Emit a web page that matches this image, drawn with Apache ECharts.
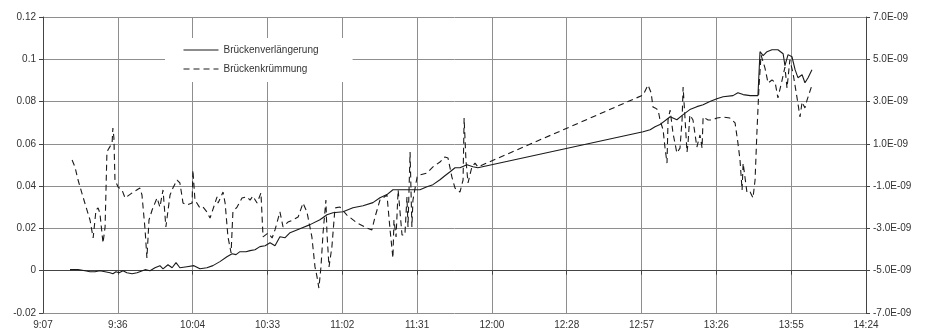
<!DOCTYPE html>
<html>
<head>
<meta charset="utf-8">
<script src="https://cdn.jsdelivr.net/npm/echarts@6/dist/echarts.min.js"></script>
<style>
  html, body { margin: 0; padding: 0; background: #fff; }
  #chart { width: 925px; height: 335px; }
</style>
</head>
<body>
<div id="chart"></div>
<script>
// Times are minutes since midnight (e.g. 557.6 = 9:17.6)
const verlTime = [557.6,560.7,563.4,565.3,567.2,569.1,571.1,573.0,574.1,575.3,576.5,578.0,579.5,581.5,583.4,586.5,588.4,590.3,592.2,593.4,595.3,596.9,598.4,599.9,602.6,605.3,607.6,610.3,612.6,615.3,618.0,620.0,621.5,623.0,625.3,626.9,628.8,630.7,632.7,634.6,636.5,638.4,640.4,642.3,646.1,650.0,653.8,656.5,658.8,662.7,666.5,670.4,674.2,676.9,679.6,681.9,685.8,689.6,692.3,695.0,697.3,700.0,701.9,703.9,705.8,707.7,710.4,712.7,714.6,778.2,780.9,782.8,784.7,788.6,791.2,793.6,796.2,798.9,801.3,803.9,806.6,809.0,812.8,814.7,816.7,819.4,822.4,823.2,824.4,825.9,827.8,830.1,832.1,832.8,834.0,835.5,836.7,837.8,839.4,840.5,841.7,843.2];
const verlValue = [0.0005,0.0005,0.0,-0.0005,-0.0005,0.0,-0.0005,-0.001,-0.0014,-0.0005,-0.001,0.0,-0.001,-0.0014,-0.001,0.0005,0.0,0.0014,0.0024,0.0009,0.0028,0.0014,0.0038,0.0014,0.0019,0.0024,0.0009,0.0014,0.0024,0.0043,0.0066,0.008,0.0076,0.009,0.009,0.0095,0.0099,0.0114,0.0118,0.0132,0.0118,0.0161,0.0156,0.018,0.0199,0.0218,0.0241,0.0265,0.0274,0.0279,0.0298,0.0307,0.0322,0.0345,0.036,0.0383,0.0383,0.0383,0.0383,0.0397,0.0407,0.043,0.0449,0.0468,0.0487,0.0487,0.0501,0.0492,0.0487,0.0657,0.0667,0.0681,0.0691,0.0728,0.0714,0.0738,0.0762,0.0776,0.0785,0.08,0.0813,0.0823,0.0828,0.0842,0.0833,0.0828,0.0828,0.1036,0.1017,0.1036,0.1045,0.1045,0.1026,0.097,0.1022,0.1012,0.0951,0.0913,0.0927,0.0889,0.0913,0.0951];

// Brückenkrümmung values in units of 1E-09
const kruemTime = [558.4,559.5,560.7,562.6,565.3,566.5,567.6,568.4,569.1,570.3,571.1,571.8,572.2,573.8,574.1,574.5,574.9,576.1,577.6,578.8,581.5,584.5,585.3,586.5,587.2,588.0,589.2,591.1,592.2,593.4,594.5,596.1,597.2,598.8,599.9,601.1,602.6,604.6,604.9,605.7,607.6,608.8,610.3,611.5,614.2,614.6,616.5,617.3,618.4,619.6,620.3,621.9,623.8,625.7,626.9,628.0,629.6,631.1,631.9,633.8,635.4,636.5,638.4,639.6,641.5,643.4,645.4,647.3,648.8,650.7,651.9,652.7,653.4,654.2,655.0,656.1,656.5,657.3,658.4,659.6,661.5,664.2,668.1,671.9,673.8,675.0,676.9,679.6,680.8,681.9,682.3,683.1,683.9,685.4,686.5,687.3,687.7,688.5,689.2,689.6,691.2,692.3,695.0,697.3,700.0,701.9,703.1,704.6,705.8,707.7,708.9,709.3,710.0,710.8,712.3,713.5,714.6,778.2,780.1,781.3,782.0,782.8,784.0,784.7,785.9,786.6,787.4,787.8,788.6,789.7,791.2,792.4,793.2,793.6,794.3,795.1,795.5,796.2,797.4,798.9,800.1,800.9,801.3,803.2,804.7,806.6,809.0,811.6,813.6,814.7,815.5,816.3,816.7,817.4,818.2,819.4,820.5,821.3,822.0,822.8,823.6,825.1,826.3,827.8,829.0,830.1,831.7,832.8,833.6,834.7,835.9,837.4,838.6,839.4,840.5,841.3,843.2];
const kruemValue = [0.24,-0.09,-0.71,-1.51,-2.6,-3.45,-2.13,-2.03,-2.27,-3.69,-2.93,0.57,0.71,1.04,1.75,1.28,-0.71,-1.04,-1.18,-1.56,-1.32,-1.09,-1.42,-3.07,-4.4,-2.6,-2.13,-1.56,-1.99,-1.18,-2.93,-1.42,-1.09,-0.71,-0.85,-1.8,-1.89,-1.8,-0.24,-1.66,-2.03,-1.99,-2.22,-2.51,-1.51,-1.8,-1.28,-1.8,-3.4,-4.16,-2.22,-1.99,-1.56,-1.51,-1.66,-1.47,-1.8,-1.32,-3.4,-3.22,-3.45,-3.07,-2.22,-2.93,-2.7,-2.6,-2.46,-1.8,-2.22,-3.4,-4.82,-5.3,-5.82,-4.82,-3.22,-1.66,-3.22,-4.82,-3.88,-2.03,-1.99,-2.37,-2.74,-2.98,-3.07,-2.46,-1.66,-1.42,-3.07,-4.4,-2.6,-3.4,-1.18,-3.31,-3.31,-1.51,-2.93,0.61,-2.93,-1.66,-0.57,-0.47,-0.38,-0.09,0.14,0.38,0.33,-0.57,-1.09,-1.28,-0.71,2.22,0.24,-0.85,-0.09,0.09,-0.09,3.31,3.78,3.41,2.74,2.7,2.6,2.13,1.66,0.85,0.09,2.13,2.6,1.51,0.57,0.8,2.13,3.69,2.27,0.61,1.04,2.37,2.13,0.85,1.42,0.8,2.27,2.13,2.13,2.22,2.27,2.22,1.99,1.04,0.24,-1.18,0.09,-0.57,-1.32,-1.28,-1.56,-0.71,1.51,3.69,5.2,4.59,3.88,4.02,3.92,3.17,4.02,4.63,3.64,4.97,4.35,3.22,2.27,2.98,2.7,3.07,3.78];

const seriesNames = ['Brückenverlängerung', 'Brückenkrümmung'];

const xMin = 547.2, xMax = 864, xStep = 28.8; // 9:07 .. 14:24
const leftMin = -0.02, leftMax = 0.12, leftStep = 0.02;
const rightMin = -7, rightMax = 7, rightStep = 2; // ×1E-09

function fmtTime(v) {
  const m = Math.round(v * 1000) / 1000;
  const h = Math.floor(m / 60 + 1e-9);
  const mm = Math.floor(m - h * 60 + 1e-6);
  return h + ':' + (mm < 10 ? '0' : '') + mm;
}

const font = 'Liberation Sans, Arial, sans-serif';
const txt = '#333';
const gridCol = '#8e8e8e';
const lineCol = '#1a1a1a';

const chart = echarts.init(document.getElementById('chart'), null, { renderer: 'canvas' });
chart.setOption({
  backgroundColor: '#fff',
  animation: false,
  grid: { left: 43, right: 59, top: 17, bottom: 22, containLabel: false },
  legend: {
    orient: 'vertical',
    left: 165, top: 38,
    padding: [7, 34, 8, 18],
    backgroundColor: '#fff',
    itemWidth: 35, itemHeight: 10, itemGap: 9,
    itemStyle: { opacity: 0 },
    lineStyle: { width: 1 },
    textStyle: { fontFamily: font, fontSize: 10, color: txt },
    data: seriesNames,
    z: 10
  },
  xAxis: {
    type: 'value', min: xMin, max: xMax, interval: xStep,
    axisLine: { show: true, lineStyle: { color: '#444', width: 1 } },
    axisTick: { show: true, length: 4, lineStyle: { color: '#444' } },
    axisLabel: { formatter: fmtTime, fontFamily: font, fontSize: 10, color: txt, margin: 7, showMaxLabel: true, showMinLabel: true },
    splitLine: { show: true, lineStyle: { color: gridCol, width: 1 } }
  },
  yAxis: [
    {
      type: 'value', min: leftMin, max: leftMax, interval: leftStep, position: 'left',
      axisLine: { show: true, lineStyle: { color: '#444' } },
      axisTick: { show: true, length: 4, lineStyle: { color: '#444' } },
      axisLabel: { fontFamily: font, fontSize: 10, color: txt, margin: 7 },
      splitLine: { show: true, lineStyle: { color: gridCol, width: 1 } }
    },
    {
      type: 'value', min: rightMin, max: rightMax, interval: rightStep, position: 'right',
      axisLine: { show: true, lineStyle: { color: '#444' } },
      axisTick: { show: true, length: 4, lineStyle: { color: '#444' } },
      axisLabel: { fontFamily: font, fontSize: 10, color: txt, margin: 7,
        formatter: v => (Math.round(v * 10) / 10).toFixed(1) + 'E-09' },
      splitLine: { show: false }
    }
  ],
  series: [
    {
      name: seriesNames[0], type: 'line', yAxisIndex: 0, symbol: 'none',
      lineStyle: { color: lineCol, width: 1.1, type: 'solid' },
      itemStyle: { color: lineCol },
      data: verlTime.map((t, i) => [t, verlValue[i]])
    },
    {
      name: seriesNames[1], type: 'line', yAxisIndex: 1, symbol: 'none',
      lineStyle: { color: lineCol, width: 1.1, type: [6, 4] },
      itemStyle: { color: lineCol },
      data: kruemTime.map((t, i) => [t, kruemValue[i]])
    }
  ]
});
</script>
</body>
</html>
